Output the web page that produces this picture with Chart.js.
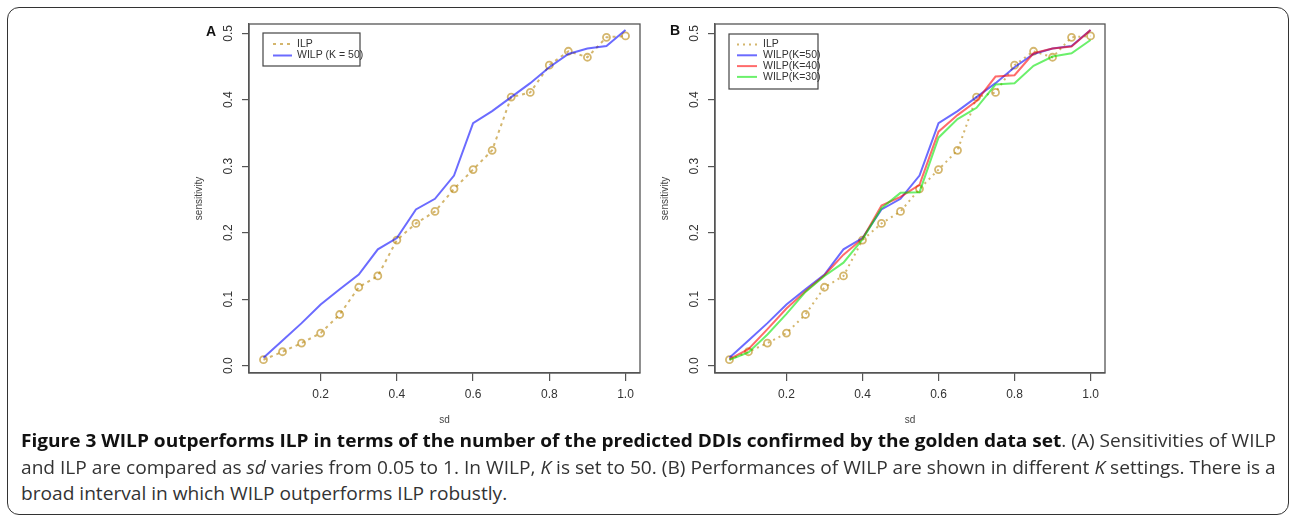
<!DOCTYPE html>
<html>
<head>
<meta charset="utf-8">
<script src="https://cdn.jsdelivr.net/npm/chart.js@4.4.1/dist/chart.umd.min.js"></script>
<style>
  body { margin: 0; background: #fff; width: 1292px; height: 522px; position: relative; overflow: hidden; font-family: "Liberation Sans", Arial, sans-serif; }
  .frame { position: absolute; left: 7px; top: 7px; width: 1280px; height: 506px; border: 1.5px solid #333; border-radius: 12px; }
  .wrap { position: absolute; top: 0; width: 510px; height: 430px; }
  .tag { position: absolute; font: bold 14px "Liberation Sans", Arial, sans-serif; color: #111; }
  .cap { position: absolute; left: 21px; height: 22px; line-height: 22px; font-family: "Open Sans", sans-serif; font-size: 18.5px; color: #333; white-space: nowrap; transform-origin: 0 50%; }
  .cap b { color: #111; }
</style>
</head>
<body>
<div class="frame"></div>
<div class="wrap" style="left:150px"><canvas id="chartA" width="510" height="430"></canvas></div>
<div class="wrap" style="left:616px"><canvas id="chartB" width="510" height="430"></canvas></div>
<div class="tag" style="left:206px;top:23px">A</div>
<div class="tag" style="left:670px;top:22px">B</div>
<div class="cap" id="cap1" style="top:429px"><b>Figure 3 WILP outperforms ILP in terms of the number of the predicted DDIs confirmed by the golden data set</b>. (A) Sensitivities of WILP</div>
<div class="cap" id="cap2" style="top:456px">and ILP are compared as <i>sd</i> varies from 0.05 to 1. In WILP, <i>K</i> is set to 50. (B) Performances of WILP are shown in different <i>K</i> settings. There is a</div>
<div class="cap" id="cap3" style="top:482px">broad interval in which WILP outperforms ILP robustly.</div>
<script>
const sd = [0.05, 0.10, 0.15, 0.20, 0.25, 0.30, 0.35, 0.40, 0.45, 0.50,
            0.55, 0.60, 0.65, 0.70, 0.75, 0.80, 0.85, 0.90, 0.95, 1.00]
const ilp = [0.009, 0.021, 0.034, 0.049, 0.077, 0.118, 0.135, 0.189, 0.214, 0.232,
             0.266, 0.295, 0.324, 0.404, 0.411, 0.452, 0.473, 0.464, 0.494, 0.496]
const wilp50 = [0.012, 0.038, 0.064, 0.092, 0.115, 0.137, 0.175, 0.192, 0.235, 0.251,
                0.286, 0.365, 0.383, 0.404, 0.425, 0.449, 0.469, 0.477, 0.481, 0.505]
const wilp40 = [0.010, 0.025, 0.055, 0.086, 0.112, 0.136, 0.167, 0.191, 0.241, 0.254,
                0.272, 0.352, 0.377, 0.398, 0.435, 0.437, 0.470, 0.477, 0.480, 0.505]
const wilp30 = [0.009, 0.020, 0.047, 0.078, 0.111, 0.135, 0.155, 0.190, 0.237, 0.260,
                0.261, 0.343, 0.371, 0.388, 0.423, 0.425, 0.451, 0.465, 0.470, 0.490]
const xTicks = [0.2, 0.4, 0.6, 0.8, 1.0]
const yTicks = [0.0, 0.1, 0.2, 0.3, 0.4, 0.5]

const AXIS_COLOR = '#555'

function pts(ys) {
  return sd.map((x, i) => ({ x: x, y: ys[i] }))
}

function ilpSet(dash) {
  return {
    label: 'ILP', data: pts(ilp), order: 4,
    borderColor: 'rgba(184,134,11,0.6)', borderWidth: 2, borderDash: dash,
    pointRadius: 3.5, pointBorderWidth: 1.8, pointBorderColor: 'rgba(184,134,11,0.6)',
    pointBackgroundColor: 'rgba(0,0,0,0)'
  }
}

function wilpSet(label, ys, color, order) {
  return { label: label, data: pts(ys), order: order, borderColor: color, borderWidth: 2, pointRadius: 0 }
}

// R-like box, rotated y tick labels and legend box
const rStyle = {
  id: 'rStyle',
  afterDraw(chart, args, opts) {
    const { ctx, chartArea: a } = chart
    ctx.save()
    ctx.strokeStyle = AXIS_COLOR
    ctx.lineWidth = 1.3
    ctx.strokeRect(a.left, a.top, a.right - a.left, a.bottom - a.top)

    const ys = chart.scales.y
    ctx.fillStyle = '#333'
    ctx.font = '12px "Liberation Sans", Arial, sans-serif'
    ctx.textAlign = 'center'
    ctx.textBaseline = 'middle'
    ys.ticks.forEach(t => {
      const py = ys.getPixelForValue(t.value)
      ctx.save()
      ctx.translate(a.left - 20, py)
      ctx.rotate(-Math.PI / 2)
      ctx.fillText(t.value.toFixed(1), 0, 0)
      ctx.restore()
    })

    const x0 = a.left + opts.x, y0 = a.top + opts.y
    ctx.strokeStyle = '#444'
    ctx.lineWidth = 1.2
    ctx.strokeRect(x0, y0, opts.w, opts.h)
    ctx.font = '10.5px "Liberation Sans", Arial, sans-serif'
    ctx.textAlign = 'left'
    chart.data.datasets.forEach((d, i) => {
      const y = y0 + opts.first + i * opts.step
      ctx.strokeStyle = d.borderColor
      ctx.lineWidth = d.borderWidth
      ctx.setLineDash(d.borderDash || [])
      ctx.beginPath()
      ctx.moveTo(x0 + opts.lineFrom, y)
      ctx.lineTo(x0 + opts.lineTo, y)
      ctx.stroke()
      ctx.setLineDash([])
      ctx.fillStyle = '#333'
      ctx.fillText(d.label, x0 + opts.textX, y)
    })
    ctx.restore()
  }
}

function makeOptions(legend, padRight) {
  return {
    responsive: false,
    animation: false,
    devicePixelRatio: 1,
    layout: { padding: { top: 24, right: padRight, left: 0, bottom: 0 } },
    plugins: { legend: { display: false }, tooltip: { enabled: false }, rStyle: legend },
    elements: { line: { tension: 0 } },
    scales: {
      x: {
        type: 'linear', min: 0.012, max: 1.038,
        afterBuildTicks: s => { s.ticks = xTicks.map(v => ({ value: v })) },
        afterFit: s => { s.height = 57 },
        grid: { drawOnChartArea: false, tickLength: 8, color: AXIS_COLOR, lineWidth: 1.2 },
        border: { color: AXIS_COLOR, width: 1.3 },
        ticks: { color: '#333', padding: 6, maxRotation: 0, font: { size: 12, family: '"Liberation Sans", Arial' },
                 callback: v => v.toFixed(1) },
        title: { display: true, text: 'sd', color: '#444', font: { size: 10, family: '"Liberation Sans", Arial' },
                 padding: { top: 0, bottom: 4 } }
      },
      y: {
        type: 'linear', min: -0.011, max: 0.514,
        afterBuildTicks: s => { s.ticks = yTicks.map(v => ({ value: v })) },
        afterFit: s => { s.width = 99 },
        grid: { drawOnChartArea: false, tickLength: 7, color: AXIS_COLOR, lineWidth: 1.2 },
        border: { color: AXIS_COLOR, width: 1.3 },
        ticks: { display: false },
        title: { display: true, text: 'sensitivity', color: '#444', font: { size: 10, family: '"Liberation Sans", Arial' },
                 padding: { top: 43, bottom: 0 } }
      }
    }
  }
}

new Chart(document.getElementById('chartA').getContext('2d'), {
  type: 'line',
  data: { datasets: [
    ilpSet([3, 4]),
    wilpSet('WILP (K = 50)', wilp50, 'rgba(0,0,255,0.58)', 3)
  ] },
  options: makeOptions({ x: 14, y: 9, w: 97, h: 33, first: 11, step: 11.5, lineFrom: 10, lineTo: 29, textX: 34 }, 20),
  plugins: [rStyle]
})

new Chart(document.getElementById('chartB').getContext('2d'), {
  type: 'line',
  data: { datasets: [
    ilpSet([2, 4]),
    wilpSet('WILP(K=50)', wilp50, 'rgba(0,0,255,0.58)', 3),
    wilpSet('WILP(K=40)', wilp40, 'rgba(255,0,0,0.58)', 2),
    wilpSet('WILP(K=30)', wilp30, 'rgba(0,230,0,0.58)', 1)
  ] },
  options: makeOptions({ x: 14, y: 10, w: 89, h: 55, first: 10.5, step: 10.8, lineFrom: 8, lineTo: 28, textX: 34 }, 21),
  plugins: [rStyle]
})

// squeeze caption lines to the figure width
function fitCaption() {
  const target = 1255
  const w1 = document.getElementById('cap1').scrollWidth
  const w2 = document.getElementById('cap2').scrollWidth
  document.getElementById('cap1').style.transform = 'scaleX(' + (target / w1) + ')'
  document.getElementById('cap2').style.transform = 'scaleX(' + (target / w2) + ')'
  document.getElementById('cap3').style.transform = 'scaleX(' + (target / w2) + ')'
}
if (document.fonts && document.fonts.ready) document.fonts.ready.then(fitCaption)
fitCaption()
</script>
</body>
</html>
